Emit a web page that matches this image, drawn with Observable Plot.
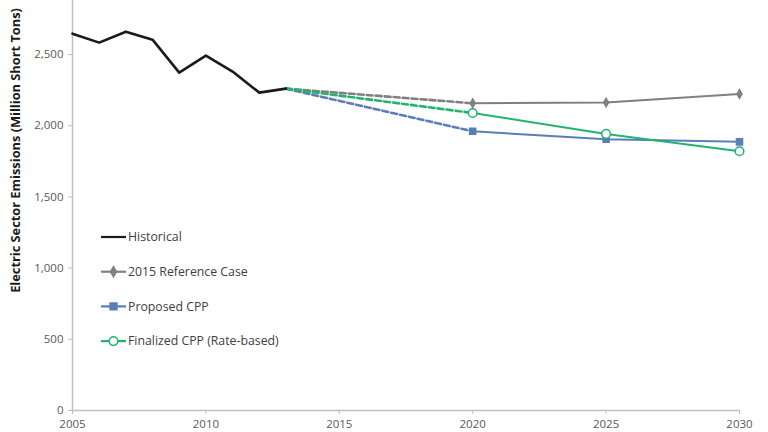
<!DOCTYPE html>
<html>
<head>
<meta charset="utf-8">
<script src="https://cdn.jsdelivr.net/npm/d3@7"></script>
<script src="https://cdn.jsdelivr.net/npm/@observablehq/plot@0.6"></script>
<style>
  html, body { margin: 0; padding: 0; background: #fff; }
  #chart { position: relative; width: 768px; height: 432px; overflow: hidden; }
  svg { font-family: "Open Sans", sans-serif; }
</style>
</head>
<body>
<div id="chart"></div>
<script>
// ---- data ----
const histYears = [2005, 2006, 2007, 2008, 2009, 2010, 2011, 2012, 2013];
const histValues = [2647, 2584, 2661, 2605, 2373, 2493, 2381, 2233, 2261];

const projYears = [2013, 2020, 2025, 2030];
const referenceCase = [2261, 2158, 2163, 2224];
const proposedCPP = [2261, 1961, 1905, 1887];
const finalizedCPP = [2261, 2090, 1943, 1821];

const seriesNames = ["Historical", "2015 Reference Case", "Proposed CPP", "Finalized CPP (Rate-based)"];
const seriesColors = ["#1a1a1a", "#808080", "#5b7db8", "#22b46e"];

const xTicks = [2005, 2010, 2015, 2020, 2025, 2030];
const yTicks = [0, 500, 1000, 1500, 2000, 2500];
const yLabel = "Electric Sector Emissions (Million Short Tons)";

// ---- tables ----
const hist = histYears.map((year, i) => ({year, value: histValues[i]}));
const mk = (arr, name) => projYears.map((year, i) => ({year, value: arr[i], series: name}));
const proj = [
  {name: seriesNames[1], color: seriesColors[1], data: mk(referenceCase, seriesNames[1]), symbol: "diamond", r: 2.6, fill: seriesColors[1]},
  {name: seriesNames[2], color: seriesColors[2], data: mk(proposedCPP, seriesNames[2]), symbol: "square", r: 3.4, fill: seriesColors[2]},
  {name: seriesNames[3], color: seriesColors[3], data: mk(finalizedCPP, seriesNames[3]), symbol: "circle", r: 4.3, fill: "white"}
];

const marks = [];
for (const s of proj) {
  marks.push(Plot.line(s.data.slice(0, 2), {x: "year", y: "value", stroke: s.color, strokeWidth: 2.6, strokeDasharray: "6,3"}));
  marks.push(Plot.line(s.data.slice(1), {x: "year", y: "value", stroke: s.color, strokeWidth: 2}));
}
for (const s of proj) {
  marks.push(Plot.dot(s.data.slice(1), {x: "year", y: "value", symbol: () => s.symbol, r: s.r, fill: s.fill, stroke: s.color, strokeWidth: 1.5}));
}
marks.push(Plot.line(hist, {x: "year", y: "value", stroke: seriesColors[0], strokeWidth: 2.6}));

const plot = Plot.plot({
  width: 768,
  height: 432,
  marginLeft: 72,
  marginRight: 29,
  marginTop: 0,
  marginBottom: 22,
  style: {fontFamily: "Open Sans, sans-serif", fontSize: "11.5px", color: "#595959", background: "white"},
  x: {domain: [2005, 2030], label: null},
  y: {domain: [0, 2880], label: null},
  marks: [
    Plot.ruleX([2005], {stroke: "#bfbfbf", strokeWidth: 1.5}),
    Plot.ruleY([0], {stroke: "#bfbfbf", strokeWidth: 1.5}),
    Plot.axisX({ticks: xTicks, tickFormat: d => String(d), tickSize: 4, tickPadding: 5, label: null, stroke: "#bfbfbf", color: "#595959", fontSize: 11.5}),
    Plot.axisY({ticks: yTicks, tickFormat: d3.format(","), tickSize: 4, tickPadding: 5, label: null, stroke: "#bfbfbf", color: "#595959", fontSize: 11.5}),
    ...marks,
    Plot.text([yLabel], {frameAnchor: "left", textAnchor: "middle", rotate: -90, dx: -57, dy: -55, fontWeight: "bold", fontSize: 12.8, fill: "#1a1a1a", text: d => d})
  ]
});
document.getElementById("chart").appendChild(plot);

// ---- legend (inside plot area, left) ----
const svg = d3.select(plot);
const lg = svg.append("g").attr("font-family", "Open Sans, sans-serif").attr("font-size", 12.3).attr("text-anchor", "start");
const legendItems = [
  {name: seriesNames[0], color: seriesColors[0], symbol: null},
  ...proj.map(s => ({name: s.name, color: s.color, symbol: s.symbol, r: s.r, fill: s.fill}))
];
const symMap = {diamond: d3.symbolDiamond, square: d3.symbolSquare, circle: d3.symbolCircle};
legendItems.forEach((it, i) => {
  const y = 237 + i * 34.7;
  const g = lg.append("g").attr("transform", `translate(101,${y})`);
  g.append("line").attr("x1", 0).attr("x2", 25).attr("y1", 0).attr("y2", 0)
    .attr("stroke", it.color).attr("stroke-width", 2.2);
  if (it.symbol) {
    const size = it.symbol === "square" ? (2 * it.r) ** 2 : it.symbol === "diamond" ? 2.2 * it.r * it.r * 2 : Math.PI * it.r * it.r;
    g.append("path").attr("d", d3.symbol(symMap[it.symbol], size)())
      .attr("transform", "translate(12.5,0)")
      .attr("fill", it.fill).attr("stroke", it.color).attr("stroke-width", 1.5);
  }
  g.append("text").attr("x", 27).attr("y", 0).attr("dy", "0.35em").attr("fill", "#404040").attr("text-anchor", "start").text(it.name);
});
</script>
</body>
</html>
